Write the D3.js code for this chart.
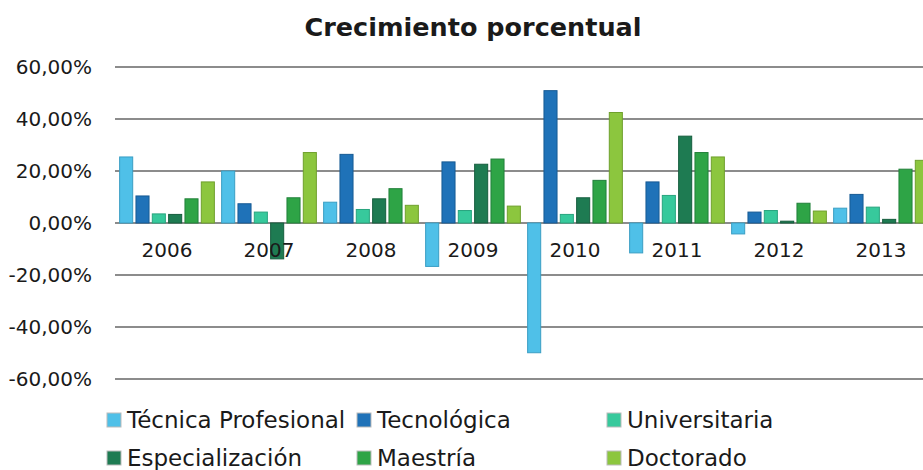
<!DOCTYPE html>
<html>
<head>
<meta charset="utf-8">
<script src="https://cdn.jsdelivr.net/npm/d3@7"></script>
<style>
  body { margin: 0; background: #fff; }
  text { font-family: "DejaVu Sans", sans-serif; fill: #1a1a1a; }
</style>
</head>
<body>
<script>
var years = ["2006", "2007", "2008", "2009", "2010", "2011", "2012", "2013"]
var series = ["Técnica Profesional", "Tecnológica", "Universitaria", "Especialización", "Maestría", "Doctorado"]
var colors = ["#4fc0e8", "#1f72b8", "#37c99c", "#1e7b52", "#2ea446", "#8cc63e"]
var strokes = ["#3a9ec4", "#175a94", "#28a47e", "#165e3e", "#22803a", "#6fa02c"]
var yTicks = [-0.6, -0.4, -0.2, 0, 0.2, 0.4, 0.6]

// one array per series, values per year
var tecnica = [25.4, 20.0, 8.0, -16.7, -49.9, -11.5, -4.2, 5.7]
var tecnologica = [10.4, 7.4, 26.4, 23.5, 50.9, 15.8, 4.2, 11.0]
var universitaria = [3.5, 4.2, 5.2, 4.8, 3.3, 10.6, 4.8, 6.1]
var especializacion = [3.3, -13.8, 9.3, 22.6, 9.7, 33.4, 0.7, 1.4]
var maestria = [9.3, 9.7, 13.2, 24.6, 16.4, 27.1, 7.6, 20.7]
var doctorado = [15.8, 27.1, 6.8, 6.5, 42.5, 25.4, 4.6, 24.1]
var values = [tecnica, tecnologica, universitaria, especializacion, maestria, doctorado]

var W = 923, H = 470
var margin = {top: 67, left: 116}
var plotH = 312, bandW = 102

var svg = d3.select("body").append("svg")
    .attr("width", W).attr("height", H)

svg.append("text")
    .attr("x", 473).attr("y", 36)
    .attr("text-anchor", "middle")
    .style("font-size", "25.5px").style("font-weight", "bold")
    .text("Crecimiento porcentual")

var x0 = d3.scaleBand().domain(years)
    .range([margin.left, margin.left + bandW * years.length])
var x1 = d3.scaleBand().domain(series)
    .range([2, bandW - 2]).paddingInner(0.2).paddingOuter(0.1)
var y = d3.scaleLinear().domain([-0.6, 0.6])
    .range([margin.top + plotH, margin.top])

// gridlines
svg.append("g").selectAll("line").data(yTicks).enter()
  .append("line")
    .attr("x1", margin.left - 1).attr("x2", W)
    .attr("y1", function(d){return y(d)}).attr("y2", function(d){return y(d)})
    .attr("stroke", "#8c8c8c").attr("stroke-width", 2)

// y labels (plain hyphen for negatives, comma decimals)
var fmt = function(d){ return (d * 100).toFixed(2).replace(".", ",") + "%" }
svg.append("g").selectAll("text").data(yTicks).enter()
  .append("text")
    .attr("x", 92).attr("y", function(d){return y(d)})
    .attr("dy", "0.35em").attr("text-anchor", "end")
    .style("font-size", "20px")
    .text(fmt)

// bars
var rows = []
years.forEach(function(yr, i){
  series.forEach(function(s, j){ rows.push({year: yr, s: s, j: j, v: values[j][i] / 100}) })
})

svg.append("g").selectAll("rect").data(rows).enter()
  .append("rect")
    .attr("x", function(d){return x0(d.year) + x1(d.s)})
    .attr("width", x1.bandwidth())
    .attr("y", function(d){return y(Math.max(0, d.v))})
    .attr("height", function(d){return Math.abs(y(d.v) - y(0))})
    .attr("fill", function(d){return colors[d.j]})
    .attr("stroke", function(d){return strokes[d.j]})
    .attr("stroke-width", 1)

// year labels
svg.append("g").selectAll("text").data(years).enter()
  .append("text")
    .attr("x", function(d){return x0(d) + x0.bandwidth() / 2})
    .attr("y", 257)
    .attr("text-anchor", "middle")
    .style("font-size", "20px")
    .text(function(d){return d})

// legend
var legend = svg.append("g").selectAll("g").data(series).enter()
  .append("g")
    .attr("transform", function(d, i){
      return "translate(" + (107 + (i % 3) * 250) + "," + (420 + Math.floor(i / 3) * 38) + ")"
    })
legend.append("rect")
    .attr("x", 0).attr("y", -7).attr("width", 14).attr("height", 14)
    .attr("fill", function(d, i){return colors[i]})
    .attr("stroke", "#bbb")
legend.append("text")
    .attr("x", 20).attr("dy", "0.35em")
    .style("font-size", "23px")
    .text(function(d){return d})
</script>
</body>
</html>
